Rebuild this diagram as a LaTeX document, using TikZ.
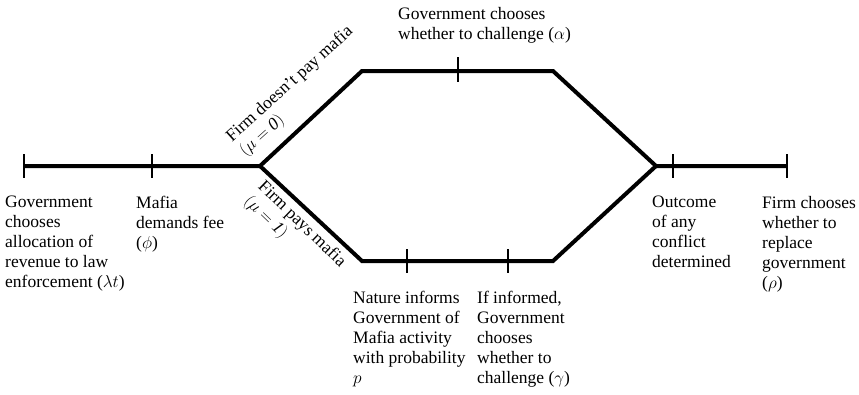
\documentclass[tikz,border=0pt]{standalone}
\usepackage{fontspec}
\setmainfont{Liberation Serif}

\tikzset{
  stage/.style={line width=4pt, line join=miter},
  tick/.style={line width=1.1pt},
  event/.style={inner sep=0pt, align=left, anchor=north west,
    font=\fontsize{17.5}{20}\selectfont},
  branch/.style={inner sep=0pt, align=left,
    font=\fontsize{17.5}{20}\selectfont},
}

\begin{document}
\begin{tikzpicture}[x=1pt,y=-1pt]
  \useasboundingbox (0,0) rectangle (859,394);
  \coordinate (start) at (24,166);
  \coordinate (fee) at (152,166);
  \coordinate (split) at (260,166);
  \coordinate (ul) at (362,71);
  \coordinate (alpha) at (458,71);
  \coordinate (ur) at (553,71);
  \coordinate (ll) at (362,261);
  \coordinate (nature) at (407,261);
  \coordinate (gamma) at (508,261);
  \coordinate (lr) at (553,261);
  \coordinate (merge) at (656,166);
  \coordinate (outcome) at (673,166);
  \coordinate (end) at (787,166);

  % time line with the two branches
  \draw[stage] (start) -- (split) -- (ul) -- (ur) -- (merge) -- (end);
  \draw[stage] (split) -- (ll) -- (lr) -- (merge);

  % ticks
  \draw[tick] ([yshift=12pt]start) -- ([yshift=-12pt]start);
  \draw[tick] ([yshift=12pt]fee) -- ([yshift=-12pt]fee);
  \draw[tick] ([yshift=14pt]alpha) -- ([yshift=-11pt]alpha);
  \draw[tick] ([yshift=12pt]nature) -- ([yshift=-12pt]nature);
  \draw[tick] ([yshift=12pt]gamma) -- ([yshift=-12pt]gamma);
  \draw[tick] ([yshift=12pt]outcome) -- ([yshift=-12pt]outcome);
  \draw[tick] ([yshift=12pt]end) -- ([yshift=-12pt]end);

  % branch labels
  \node[branch, anchor=south west, rotate=42, xshift=-5pt, yshift=12pt]
    (nopay) at (split) {Firm doesn't pay mafia\\$(\mu = \mathit{0})$};
  \node[branch, anchor=north west, rotate=-44, xshift=13pt, yshift=-5pt]
    (pay) at (split) {Firm pays mafia\\$(\mu = \mathit{1})$};

  % events
  \node[event] (allocation) at (5,196)
    {Government\\chooses\\allocation of\\revenue to law\\enforcement ($\lambda t$)};
  \node[event] (demand) at (136,196) {Mafia\\demands fee\\($\phi$)};
  \node[event] (challenge) at (398,7)
    {Government chooses\\whether to challenge ($\alpha$)};
  \node[event] (inform) at (353,291)
    {Nature informs\\Government of\\Mafia activity\\with probability\\$p$};
  \node[event] (informed) at (477,291)
    {If informed,\\Government\\chooses\\whether to\\challenge ($\gamma$)};
  \node[event] (conflict) at (652,196)
    {Outcome\\of any\\conflict\\determined};
  \node[event] (replace) at (762,196)
    {Firm chooses\\whether to\\replace\\government\\($\rho$)};
\end{tikzpicture}
\end{document}
